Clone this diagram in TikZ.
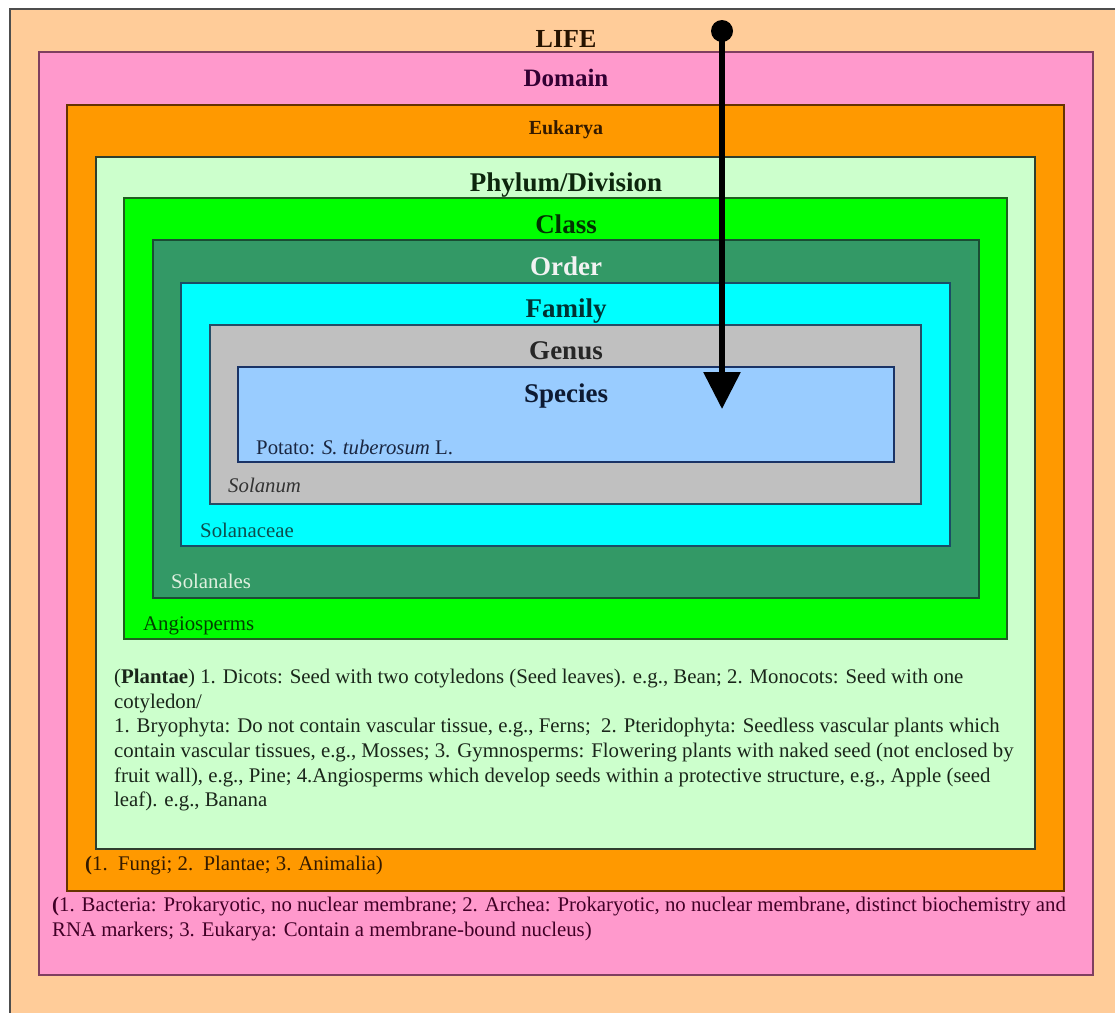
\documentclass[tikz,border=0pt]{standalone}
\usepackage{fontspec}
\setmainfont{Liberation Serif}
\usetikzlibrary{arrows.meta}
\definecolor{lifeC}{HTML}{FFCC99}\definecolor{lifeB}{HTML}{4D4D4D}
\definecolor{domC}{HTML}{FF99CC}\definecolor{domB}{HTML}{7F3F5F}
\definecolor{eukC}{HTML}{FF9900}\definecolor{eukB}{HTML}{663300}
\definecolor{phyC}{HTML}{CCFFCC}\definecolor{phyB}{HTML}{2E3F2E}
\definecolor{claC}{HTML}{00FF00}\definecolor{claB}{HTML}{1F5F1F}
\definecolor{ordC}{HTML}{339966}\definecolor{ordB}{HTML}{1A4D33}
\definecolor{famC}{HTML}{00FFFF}\definecolor{famB}{HTML}{1A4D66}
\definecolor{genC}{HTML}{C0C0C0}\definecolor{genB}{HTML}{264D66}
\definecolor{speC}{HTML}{99CCFF}\definecolor{speB}{HTML}{1A3366}
\definecolor{tLife}{HTML}{261300}\definecolor{tDom}{HTML}{330033}
\definecolor{tEuk}{HTML}{331A00}\definecolor{tPhy}{HTML}{0D260D}
\definecolor{tCla}{HTML}{003300}\definecolor{tOrd}{HTML}{F2F2F2}
\definecolor{tFam}{HTML}{003333}\definecolor{tGen}{HTML}{262626}
\definecolor{tSpe}{HTML}{0D1A33}\definecolor{tPot}{HTML}{1A2640}
\definecolor{tSol}{HTML}{333333}\definecolor{tSolc}{HTML}{0D4D4D}
\definecolor{tSoll}{HTML}{E0F0E0}\definecolor{tAng}{HTML}{004000}
\definecolor{tPla}{HTML}{1A261A}\definecolor{tDomP}{HTML}{400026}
\begin{document}
\begin{tikzpicture}[x=1pt,y=-1pt,
  box/.style={line width=2pt},
  rank/.style={font=\fontsize{27}{30}\selectfont\bfseries, anchor=base, inner sep=0pt},
  body/.style={font=\fontsize{20.8}{24.6}\selectfont, anchor=base west, inner sep=0pt},
  para/.style={font=\fontsize{20.8}{24.6}\selectfont, anchor=north west, inner sep=0pt, align=left}]
\useasboundingbox (0,0) rectangle (1115,1012);
\fill[white] (0,0) rectangle (1115,1012);
\begin{scope}
\clip (0,0) rectangle (1115,1012);
\draw[fill=lifeC, draw=lifeB, line width=1.5pt] (10,9) rectangle (1130,1030);
\end{scope}
\draw[box, fill=domC, draw=domB] (39,52) rectangle (1093,975);
\draw[box, fill=eukC, draw=eukB] (67,105) rectangle (1064,891);
\draw[box, fill=phyC, draw=phyB] (96,157) rectangle (1035,849);
\draw[box, fill=claC, draw=claB] (124,198) rectangle (1007,639);
\draw[box, fill=ordC, draw=ordB] (153,240) rectangle (979,598);
\draw[box, fill=famC, draw=famB] (181,283) rectangle (950,546);
\draw[box, fill=genC, draw=genB] (210,325) rectangle (921,504);
\draw[box, fill=speC, draw=speB] (238,367) rectangle (894,462);
% rank titles
\node[rank, text=tLife, font=\fontsize{26}{30}\selectfont\bfseries] (life) at (566,47) {LIFE};
\node[rank, text=tDom, font=\fontsize{25}{30}\selectfont\bfseries] (domain) at (566,86) {Domain};
\node[rank, text=tEuk, font=\fontsize{20}{24}\selectfont\bfseries] (eukarya) at (566,134) {Eukarya};
\node[rank, text=tPhy] (phylum) at (566,191) {Phylum/Division};
\node[rank, text=tCla] (class) at (566,233) {Class};
\node[rank, text=tOrd] (order) at (566,275) {Order};
\node[rank, text=tFam] (family) at (566,317) {Family};
\node[rank, text=tGen] (genus) at (566,359) {Genus};
\node[rank, text=tSpe] (species) at (566,402) {Species};
% examples
\node[body, text=tPot] (potato) at (256,454) {Potato: \textit{S. tuberosum} L.};
\node[body, text=tSol] (solanum) at (228,492) {\textit{Solanum}};
\node[body, text=tSolc] (solanaceae) at (200,537) {Solanaceae};
\node[body, text=tSoll] (solanales) at (171,588) {Solanales};
\node[body, text=tAng] (angio) at (143,630) {Angiosperms};
\node[para, text=tPla] (plantae) at (114,669) {(\textbf{Plantae}) 1. Dicots: Seed with two cotyledons (Seed leaves). e.g., Bean; 2. Monocots: Seed with one\\
cotyledon/\\
1. Bryophyta: Do not contain vascular tissue, e.g., Ferns;\ \ 2. Pteridophyta: Seedless vascular plants which\\
contain vascular tissues, e.g., Mosses; 3. Gymnosperms: Flowering plants with naked seed (not enclosed by\\
fruit wall), e.g., Pine; 4.Angiosperms which develop seeds within a protective structure, e.g., Apple (seed\\
leaf). e.g., Banana};
\node[body, text=tEuk] (kingdoms) at (85,870) {\textbf{(}1.\ \ Fungi; 2.\ \ Plantae; 3. Animalia)};
\node[para, text=tDomP] (domains) at (52,897) {\textbf{(}1. Bacteria: Prokaryotic, no nuclear membrane; 2. Archea: Prokaryotic, no nuclear membrane, distinct biochemistry and\\
RNA markers; 3. Eukarya: Contain a membrane-bound nucleus)};
% arrow
\coordinate (arrS) at (722,31);
\coordinate (arrE) at (722,409);
\draw[line width=6pt, -{Triangle[width=36pt,length=37pt]}] (arrS) -- (arrE);
\fill (arrS) circle (11pt);
\end{tikzpicture}
\end{document}
